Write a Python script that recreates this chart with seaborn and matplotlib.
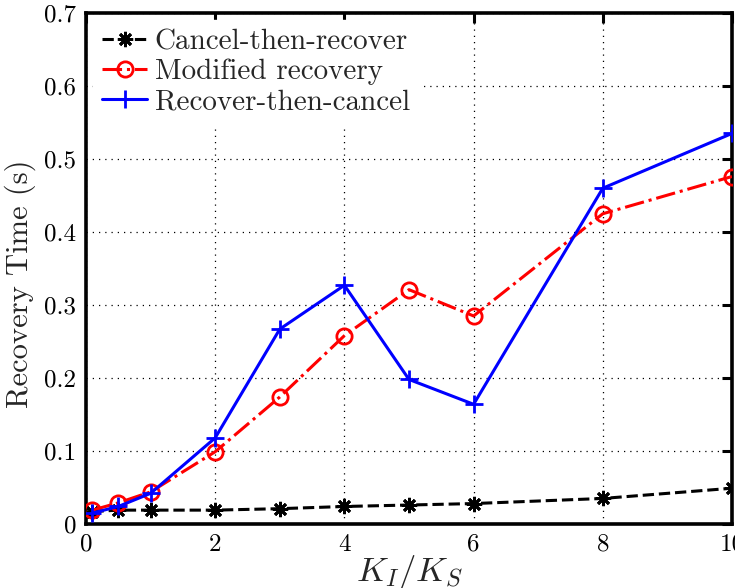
import matplotlib
matplotlib.use("Agg")
import matplotlib.pyplot as plt
import seaborn as sns
import pandas as pd

# Ratio of interference to signal gain
ratio = [0.1, 0.5, 1, 2, 3, 4, 5, 6, 8, 10]

# Recovery time (s) of each scheme
cancel_then_recover = [0.017, 0.019, 0.019, 0.019, 0.021, 0.024, 0.026, 0.028, 0.035, 0.049]
modified_recovery = [0.019, 0.029, 0.044, 0.099, 0.174, 0.258, 0.321, 0.285, 0.425, 0.476]
recover_then_cancel = [0.015, 0.024, 0.042, 0.118, 0.267, 0.327, 0.198, 0.164, 0.460, 0.535]

series_names = ["Cancel-then-recover", "Modified recovery", "Recover-then-cancel"]

x_ticks = [0, 2, 4, 6, 8, 10]
x_tick_labels = ["0", "2", "4", "6", "8", "10"]
y_ticks = [0, 0.1, 0.2, 0.3, 0.4, 0.5, 0.6, 0.7]
y_tick_labels = ["0", "0.1", "0.2", "0.3", "0.4", "0.5", "0.6", "0.7"]

sns.set_style("white")
plt.rcParams["font.family"] = ["cmr10"]
plt.rcParams["mathtext.fontset"] = "cm"
plt.rcParams["axes.formatter.use_mathtext"] = True

fig = plt.figure(figsize=(7.35, 5.88), dpi=100)
ax = fig.add_axes([86 / 735, 64 / 588, (732 - 86) / 735, (524 - 13) / 588])

df = pd.DataFrame({
    "ratio": ratio * 3,
    "time": cancel_then_recover + modified_recovery + recover_then_cancel,
    "scheme": [series_names[0]] * len(ratio) + [series_names[1]] * len(ratio)
              + [series_names[2]] * len(ratio),
})

styles = {
    series_names[0]: dict(color="black", linestyle="--", marker=(8, 2, 0),
                          markersize=11, markerfacecolor="none"),
    series_names[1]: dict(color="red", linestyle="-.", marker="o",
                          markersize=11, markerfacecolor="none"),
    series_names[2]: dict(color="blue", linestyle="-", marker="+",
                          markersize=13, markerfacecolor="none"),
}

for name in series_names:
    st = styles[name]
    sns.lineplot(data=df[df["scheme"] == name], x="ratio", y="time", ax=ax,
                 label=name, linewidth=2.2, markeredgewidth=2.0,
                 markeredgecolor=st["color"], zorder=3, **st)

ax.set_xlim(0, 10)
ax.set_ylim(0, 0.7)
ax.set_xticks(x_ticks)
ax.set_xticklabels(x_tick_labels)
ax.set_yticks(y_ticks)
ax.set_yticklabels(y_tick_labels)

ax.grid(True, linestyle=(0, (1, 4)), color="black", linewidth=0.9, zorder=0)
ax.set_axisbelow(True)

for side in ["left", "right", "top", "bottom"]:
    ax.spines[side].set_visible(True)
    ax.spines[side].set_color("black")
    ax.spines[side].set_linewidth(2.6)

ax.tick_params(axis="both", which="both", direction="in", length=7, width=2.2,
               top=True, right=True, labelsize=18, pad=7, colors="black")

ax.set_xlabel(r"$K_I/K_S$", fontsize=25, labelpad=-2)
ax.set_ylabel("Recovery Time (s)", fontsize=22)
ax.yaxis.set_label_coords(-0.078, 0.47)

leg = ax.legend(loc="upper left", fontsize=21, frameon=True, fancybox=False,
                edgecolor="white", framealpha=1.0, handlelength=1.55,
                handletextpad=0.25, labelspacing=0.12, borderpad=0.3,
                borderaxespad=0.25)

fig.savefig("out.png", dpi=100)
